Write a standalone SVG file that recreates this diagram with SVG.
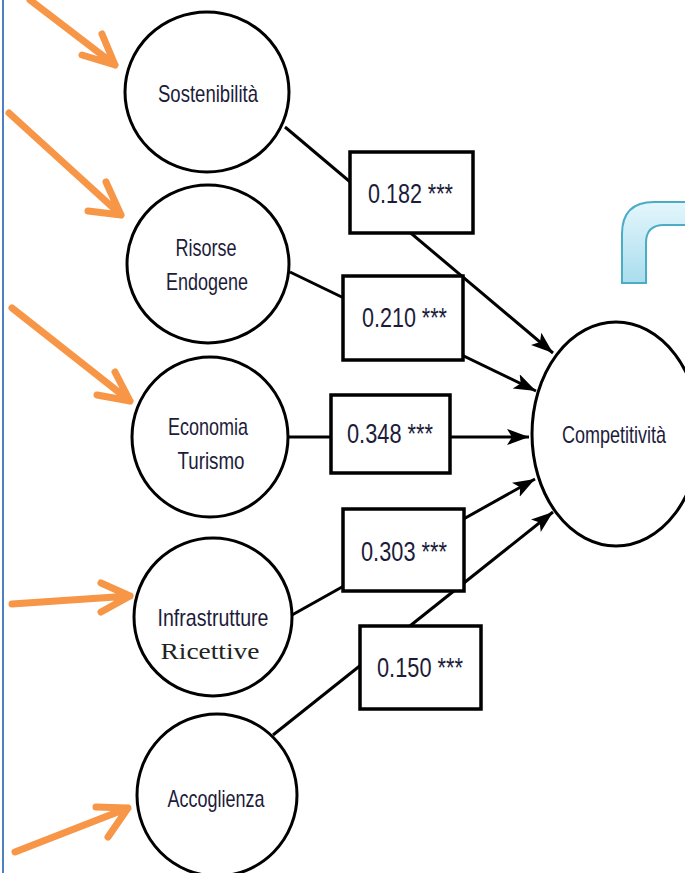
<svg xmlns="http://www.w3.org/2000/svg" width="685" height="873" viewBox="0 0 685 873">
<style>
.node{fill:#fff;stroke:#000;stroke-width:3}
.box{fill:#fff;stroke:#000;stroke-width:3.5}
.lbl{font-family:"Liberation Sans",Arial,sans-serif;font-size:24px;fill:#1c1c3a;text-anchor:middle}
.num{font-family:"Liberation Sans",Arial,sans-serif;font-size:27px;fill:#1c1c3a}
.edge{stroke:#000;stroke-width:3;fill:none}
.oa{stroke:#F79646;stroke-width:7;fill:none;stroke-linecap:round;stroke-linejoin:round}
</style>
<defs>
<marker id="ah" markerUnits="userSpaceOnUse" markerWidth="24" markerHeight="18" refX="22" refY="8" orient="auto">
<path d="M0,0 L22,8 L0,16 L5,8 Z" fill="#000"/>
</marker>
<linearGradient id="cg" x1="0" y1="0" x2="0" y2="1">
<stop offset="0" stop-color="#e4f6fc"/>
<stop offset="1" stop-color="#a9ddee"/>
</linearGradient>
</defs>
<rect width="685" height="873" fill="#fff"/>
<line x1="3" y1="0" x2="3" y2="873" stroke="#4F7FC0" stroke-width="2"/>
<path d="M622 283 L622 234 Q622 202 654 202 L690 202 L690 225 L664 225 Q646 225 646 243 L646 283 Z" fill="url(#cg)" stroke="#4BACC6" stroke-width="2"/>
<g id="connectors">
<line class="edge" x1="285" y1="127" x2="553" y2="353" marker-end="url(#ah)"/>
<line class="edge" x1="290" y1="272" x2="536" y2="391" marker-end="url(#ah)"/>
<line class="edge" x1="288" y1="437" x2="529" y2="437" marker-end="url(#ah)"/>
<line class="edge" x1="292" y1="615" x2="535" y2="479" marker-end="url(#ah)"/>
<line class="edge" x1="273" y1="735" x2="553" y2="512" marker-end="url(#ah)"/>
</g>
<g id="orange-arrows">
<path class="oa" d="M30 0 L115 65 M82 55 L115 65 L102 34"/>
<path class="oa" d="M9 113 L121 215 M88 211 L121 215 L106 182"/>
<path class="oa" d="M12 308 L130 401 M97 395 L130 401 L115 372"/>
<path class="oa" d="M12 604 L130 596 M101 583 L130 596 L101 612"/>
<path class="oa" d="M15 852 L128 808 M96 807 L128 808 L108 837"/>
</g>
<g id="sostenibilita">
<ellipse class="node" cx="207" cy="92" rx="82" ry="80"/>
<text class="lbl" x="208" y="102" textLength="100" lengthAdjust="spacingAndGlyphs">Sostenibilità</text>
</g>
<g id="risorse">
<ellipse class="node" cx="208" cy="264" rx="81" ry="79"/>
<text class="lbl" x="206" y="256" textLength="61" lengthAdjust="spacingAndGlyphs">Risorse</text>
<text class="lbl" x="207" y="290" textLength="82" lengthAdjust="spacingAndGlyphs">Endogene</text>
</g>
<g id="economia">
<ellipse class="node" cx="210" cy="437" rx="78" ry="80"/>
<text class="lbl" x="208" y="435" textLength="80" lengthAdjust="spacingAndGlyphs">Economia</text>
<text class="lbl" x="211" y="469" textLength="67" lengthAdjust="spacingAndGlyphs">Turismo</text>
</g>
<g id="infrastrutture">
<ellipse class="node" cx="213" cy="617" rx="79" ry="79"/>
<text class="lbl" x="213" y="626" textLength="111" lengthAdjust="spacingAndGlyphs">Infrastrutture</text>
<text x="210" y="659" font-family="'Liberation Serif','DejaVu Serif',serif" font-size="24" fill="#222" text-anchor="middle" textLength="99" lengthAdjust="spacingAndGlyphs">Ricettive</text>
</g>
<g id="accoglienza">
<ellipse class="node" cx="217" cy="795" rx="80" ry="81"/>
<text class="lbl" x="216" y="807" textLength="97" lengthAdjust="spacingAndGlyphs">Accoglienza</text>
</g>
<g id="competitivita">
<ellipse class="node" cx="616" cy="434" rx="84" ry="112"/>
<text class="lbl" x="614" y="443" textLength="104" lengthAdjust="spacingAndGlyphs">Competitività</text>
</g>
<g id="w1">
<rect class="box" x="350" y="152" width="123" height="81"/>
<text class="num" x="368" y="203" textLength="85" lengthAdjust="spacingAndGlyphs">0.182 ***</text>
</g>
<g id="w2">
<rect class="box" x="343" y="276" width="120" height="84"/>
<text class="num" x="362" y="327" textLength="85" lengthAdjust="spacingAndGlyphs">0.210 ***</text>
</g>
<g id="w3">
<rect class="box" x="331" y="395" width="119" height="78"/>
<text class="num" x="347" y="443" textLength="86" lengthAdjust="spacingAndGlyphs">0.348 ***</text>
</g>
<g id="w4">
<rect class="box" x="343" y="509" width="121" height="82"/>
<text class="num" x="361" y="561" textLength="86" lengthAdjust="spacingAndGlyphs">0.303 ***</text>
</g>
<g id="w5">
<rect class="box" x="360" y="626" width="121" height="83"/>
<text class="num" x="377" y="677" textLength="86" lengthAdjust="spacingAndGlyphs">0.150 ***</text>
</g>
</svg>
